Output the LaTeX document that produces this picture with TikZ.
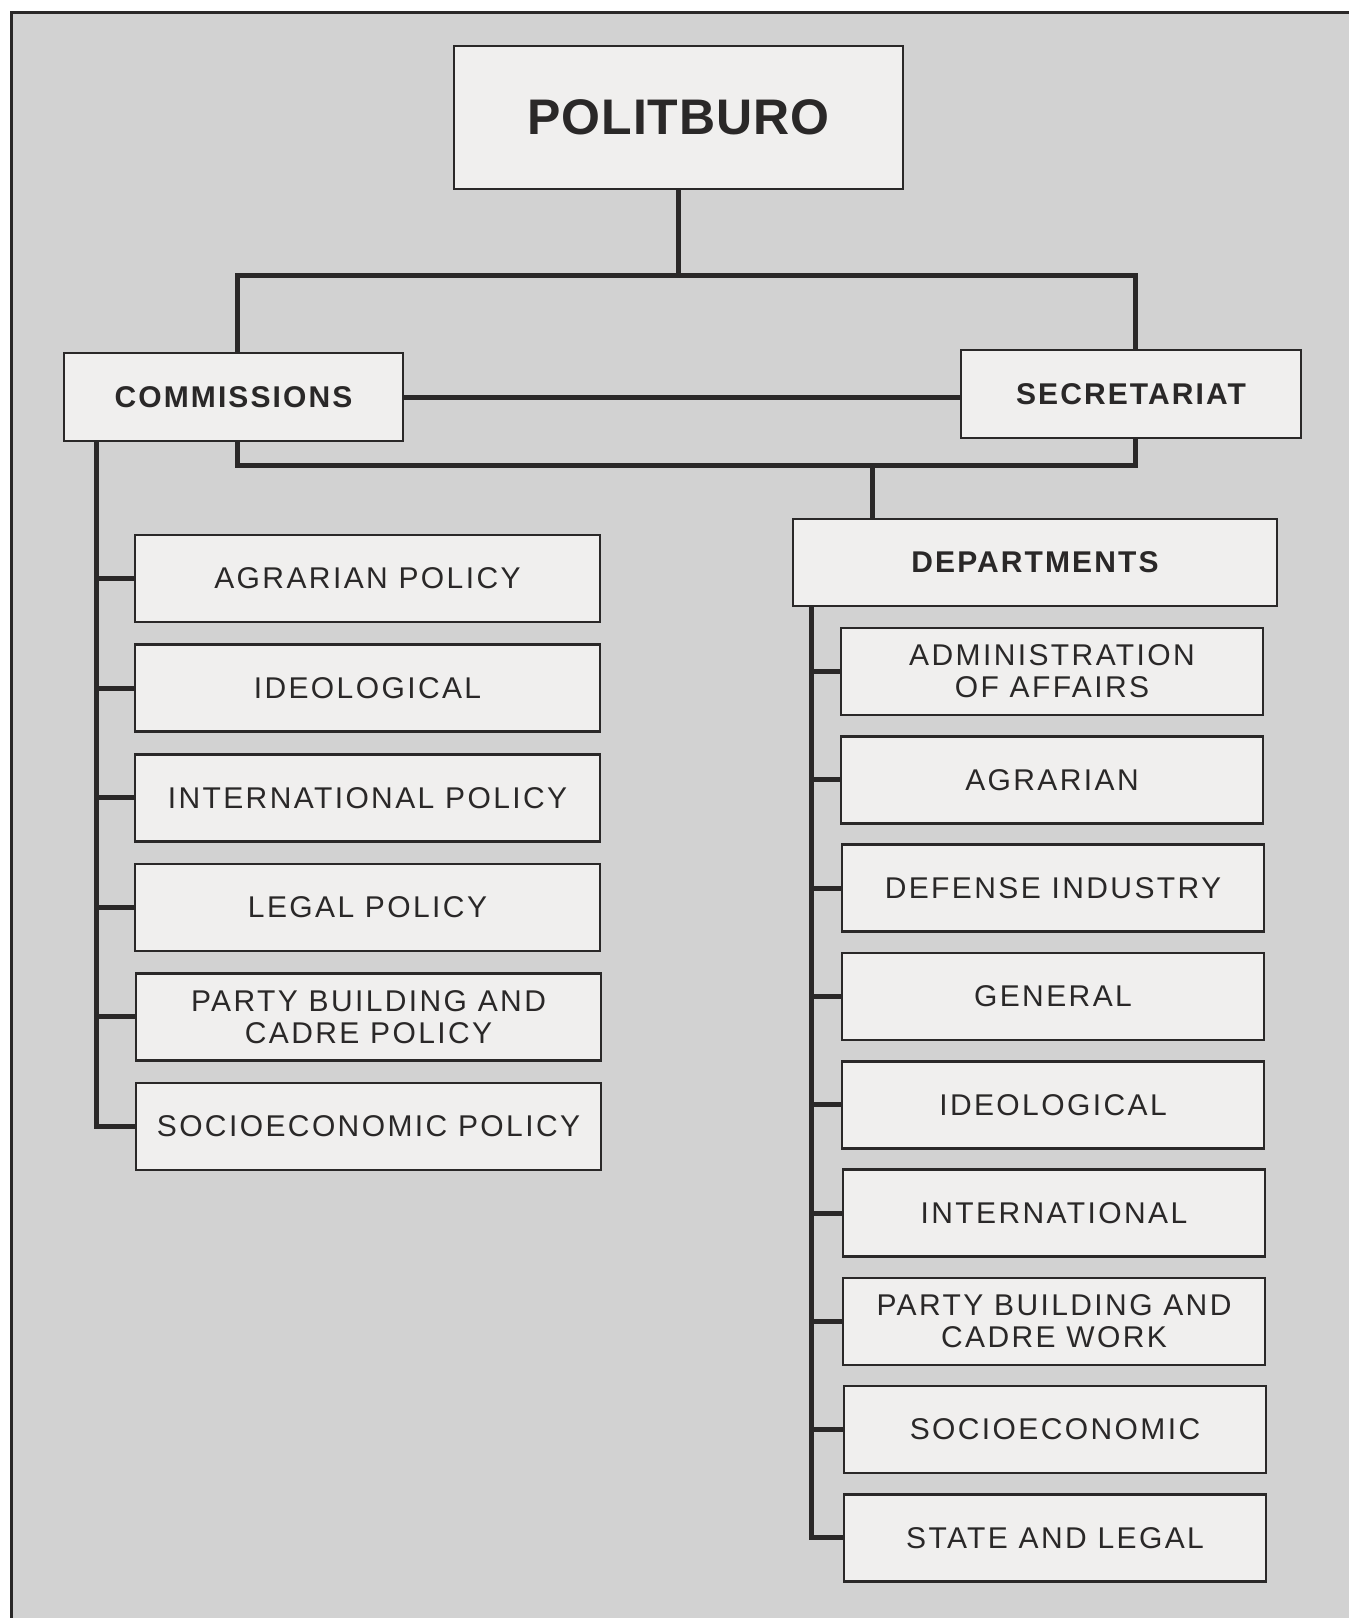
\documentclass[tikz,border=0pt]{standalone}
\usepackage{fontspec}
\newfontfamily\plainfont[LetterSpace=2]{Liberation Sans}
\newfontfamily\spacedfont[LetterSpace=8]{Liberation Sans}
\newfontfamily\headfont[LetterSpace=7]{Liberation Sans}
\definecolor{ink}{RGB}{42,40,40}
\definecolor{boxfill}{RGB}{240,239,238}
\definecolor{paper}{RGB}{210,210,210}
\begin{document}
\begin{tikzpicture}[x=1pt,y=-1pt,
  box/.style={draw=ink, fill=boxfill, line width=2.6pt, inner sep=0pt, align=center, text=ink},
  leaf/.style={box, minimum height=87pt, font=\spacedfont\fontsize{30}{32}\selectfont},
  lbox/.style={leaf, minimum width=465pt},
  rbox/.style={leaf, minimum width=422pt},
  head/.style={box, minimum height=88pt, font=\headfont\bfseries\fontsize{30}{33}\selectfont},
  link/.style={draw=ink, line width=5pt, line join=miter},
  frameline/.style={draw=ink, line width=3pt}
]
\useasboundingbox (0,0) rectangle (1349,1618);
\fill[white] (0,0) rectangle (1349,1618);
\fill[paper] (11,12) rectangle (1349,1618);
\draw[frameline] (11,1618) -- (11,12) -- (1349,12);

% top level
\node[box, minimum width=449pt, minimum height=143pt, font=\plainfont\bfseries\fontsize{50}{55}\selectfont] (polit) at (678.5,117.5) {POLITBURO};
\node[head, minimum width=339pt] (comm) at (233.5,397) {COMMISSIONS};
\node[head, minimum width=340pt] (secr) at (1131,394) {SECRETARIAT};
\node[head, minimum width=484pt, minimum height=87pt] (dept) at (1035,562.5) {DEPARTMENTS};

% commissions
\node[lbox] (c1) at (367.5,578.5) {AGRARIAN POLICY};
\node[lbox] (c2) at (367.5,688.1) {IDEOLOGICAL};
\node[lbox] (c3) at (367.5,797.7) {INTERNATIONAL POLICY};
\node[lbox] (c4) at (367.5,907.3) {LEGAL POLICY};
\node[lbox] (c5) at (368.5,1016.9) {PARTY BUILDING AND\\CADRE POLICY};
\node[lbox] (c6) at (368.5,1126.5) {SOCIOECONOMIC POLICY};

% departments
\node[rbox] (d1) at (1052,671.5) {ADMINISTRATION\\OF AFFAIRS};
\node[rbox] (d2) at (1052,779.8) {AGRARIAN};
\node[rbox] (d3) at (1053,888.1) {DEFENSE INDUSTRY};
\node[rbox] (d4) at (1053,996.4) {GENERAL};
\node[rbox] (d5) at (1053,1104.7) {IDEOLOGICAL};
\node[rbox] (d6) at (1054,1213.0) {INTERNATIONAL};
\node[rbox] (d7) at (1054,1321.3) {PARTY BUILDING AND\\CADRE WORK};
\node[rbox] (d8) at (1055,1429.6) {SOCIOECONOMIC};
\node[rbox] (d9) at (1055,1537.9) {STATE AND LEGAL};

% connectors
\coordinate (tl) at (237,275);
\coordinate (tr) at (1135,275);
\coordinate (bl) at (237,465);
\coordinate (br) at (1135,465);
\coordinate (ds) at (872,465);
\coordinate (cs) at (96,0);
\coordinate (rs) at (811,0);

\draw[link] (polit.south) -- (polit.south |- tl);
\draw[link] (comm.north -| tl) |- (tr) -- (secr.north -| tr);
\draw[link] (comm.south -| bl) |- (br) -- (secr.south -| br);
\draw[link] (comm.east) -- (comm.east -| secr.west);
\draw[link] (ds) -- (dept.north -| ds);

\draw[link] (comm.south -| cs) |- (c6.west);
\foreach \n in {c1,c2,c3,c4,c5}
  \draw[link] (\n.west -| cs) -- (\n.west);

\draw[link] (dept.south -| rs) |- (d9.west);
\foreach \n in {d1,d2,d3,d4,d5,d6,d7,d8}
  \draw[link] (\n.west -| rs) -- (\n.west);
\end{tikzpicture}
\end{document}
